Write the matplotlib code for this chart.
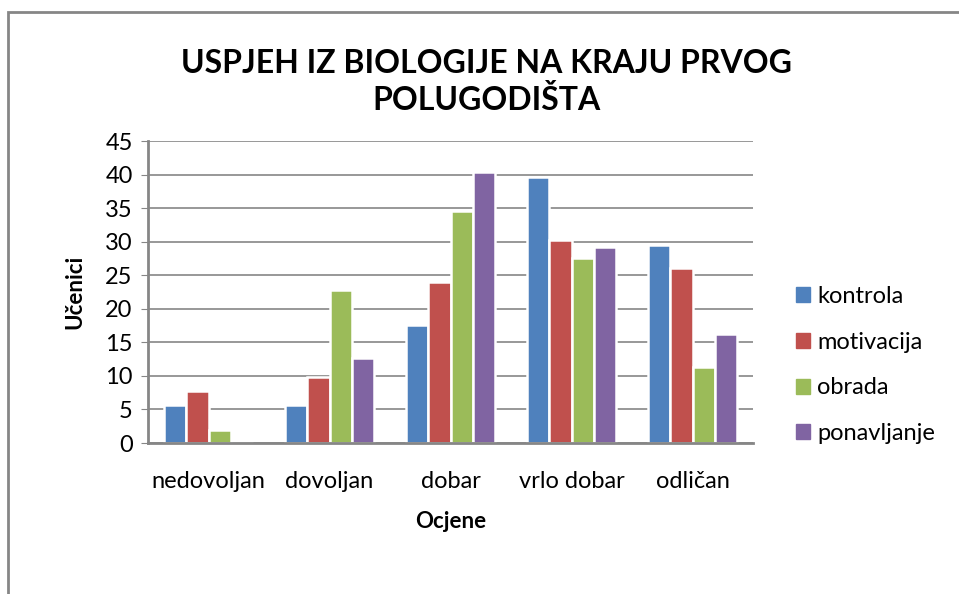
import matplotlib.pyplot as plt
import numpy as np
from matplotlib.patches import Rectangle

plt.rcParams['font.family'] = ['Lato', 'DejaVu Sans']

categories = ['nedovoljan', 'dovoljan', 'dobar', 'vrlo dobar', 'odličan']
series_names = ['kontrola', 'motivacija', 'obrada', 'ponavljanje']
kontrola = [5.6, 5.6, 17.6, 39.6, 29.5]
motivacija = [7.8, 9.9, 24.0, 30.3, 26.1]
obrada = [2.0, 22.8, 34.5, 27.5, 11.3]
ponavljanje = [0.0, 12.6, 40.4, 29.2, 16.3]
colors = ['#4F81BD', '#C0504D', '#9BBB59', '#8064A2']

fig = plt.figure(figsize=(9.59, 5.94), dpi=100)
fig.patch.set_facecolor('white')

# outer chart border (cut off at right and bottom in the reference)
fig.patches.append(Rectangle((8 / 959, -0.1), 1.2, 1 - 12 / 594 + 0.1,
                             transform=fig.transFigure, fill=False,
                             edgecolor='#868686', linewidth=2))

ax = fig.add_axes([148 / 959, 1 - 443 / 594, 605 / 959, 302 / 594])

x = np.arange(len(categories))
w = 0.182
all_series = [kontrola, motivacija, obrada, ponavljanje]
for i, vals in enumerate(all_series):
    pos = x + (i - 1.5) * w
    ax.bar(pos, vals, w, color=colors[i], edgecolor='white', linewidth=1.8,
           label=series_names[i], zorder=3)

ax.set_xlim(-0.5, 4.5)
ax.set_ylim(0, 45)
ax.set_yticks(range(0, 46, 5))
ax.yaxis.grid(True, color='#868686', linewidth=1.2)
ax.set_axisbelow(True)
ax.set_xticks(x)
ax.set_xticklabels(categories, fontsize=17)
ax.tick_params(axis='x', length=0, pad=20)
ax.tick_params(axis='y', labelsize=17, length=5, color='#868686', pad=6)
for s in ['top', 'right']:
    ax.spines[s].set_visible(False)
for s in ['left', 'bottom']:
    ax.spines[s].set_color('#868686')
    ax.spines[s].set_linewidth(2)
    ax.spines[s].set_zorder(5)

ax.set_xlabel('Ocjene', fontsize=16, fontweight='bold', labelpad=14)
ax.set_ylabel('Učenici', fontsize=16, fontweight='bold', labelpad=14)

fig.text(0.507, 1 - 82 / 594, 'USPJEH IZ BIOLOGIJE NA KRAJU PRVOG\nPOLUGODIŠTA',
         ha='center', va='center', fontsize=23, fontweight='bold',
         linespacing=1.3)

handles = [plt.Rectangle((0, 0), 1, 1, color=c) for c in colors]
fig.legend(handles, series_names, loc='center left',
           bbox_to_anchor=(775 / 959, 1 - 365 / 594), frameon=False,
           fontsize=17, labelspacing=1.05, handlelength=0.6, handleheight=0.6,
           handletextpad=0.3)

fig.savefig('out.png', dpi=100)
